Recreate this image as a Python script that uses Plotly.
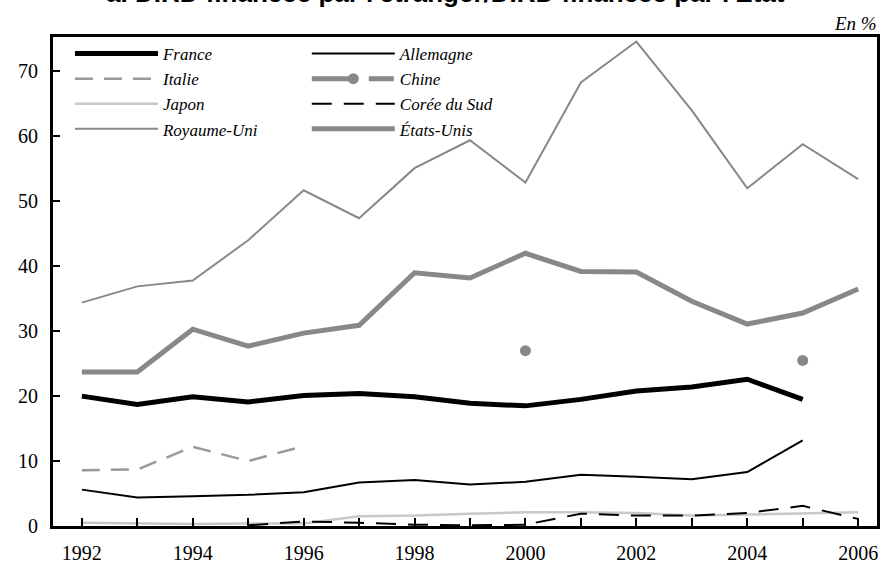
import plotly.graph_objects as go

years = list(range(1992, 2007))

france = [20.0, 18.7, 19.9, 19.1, 20.1, 20.4, 19.9, 18.9, 18.5, 19.5, 20.8, 21.4, 22.6, 19.5, None]
allemagne = [5.6, 4.4, 4.6, 4.8, 5.2, 6.7, 7.1, 6.4, 6.8, 7.9, 7.6, 7.2, 8.3, 13.2, None]
italie = [8.6, 8.7, 12.2, 10.0, 12.3, None, None, None, None, None, None, None, None, None, None]
chine = [None, None, None, None, None, None, None, None, 27.0, None, None, None, None, 25.5, None]
japon = [0.5, 0.4, 0.3, 0.4, 0.4, 1.5, 1.6, 1.9, 2.1, 2.1, 2.0, 1.6, 1.8, 2.0, 2.1]
coree = [None, None, None, 0.1, 0.7, 0.5, 0.2, 0.1, 0.2, 1.9, 1.6, 1.6, 2.0, 3.1, 1.1]
royaume_uni = [34.4, 36.9, 37.8, 44.0, 51.7, 47.4, 55.1, 59.4, 52.9, 68.3, 74.6, 64.0, 52.0, 58.8, 53.4]
etats_unis = [23.7, 23.7, 30.3, 27.7, 29.7, 30.9, 39.0, 38.2, 42.0, 39.2, 39.1, 34.6, 31.1, 32.8, 36.5]

x_tickvals = years
x_ticktext = [str(y) if y % 2 == 0 else "" for y in years]
y_tickvals = [0, 10, 20, 30, 40, 50, 60, 70]

title_text = "a. DIRD financée par l'étranger/DIRD financée par l'État"
unit_text = "En %"

fig = go.Figure()


def add_line(name, y, color, width, legend, dash="solid", mode="lines", marker=None):
    fig.add_trace(go.Scatter(
        x=years, y=y, name=name, mode=mode, legend=legend,
        line=dict(color=color, width=width, dash=dash),
        marker=marker, connectgaps=False, hoverinfo="skip",
    ))


add_line("Japon", japon, "#c8c8c8", 2.5, "legend")
add_line("Corée du Sud", coree, "#000000", 2, "legend2", dash="20px,12px")
add_line("Royaume-Uni", royaume_uni, "#888888", 2, "legend")
add_line("Italie", italie, "#999999", 2.5, "legend", dash="18px,11px")
add_line("Allemagne", allemagne, "#000000", 2, "legend2")
add_line("États-Unis", etats_unis, "#888888", 5, "legend2")
add_line("France", france, "#000000", 5, "legend")
add_line("Chine", chine, "#888888", 5, "legend2", dash="40px,17px,25px,17px",
         mode="lines+markers", marker=dict(size=11, color="#888888"))

legend_font = dict(family="Liberation Serif", size=17, color="#000000", style="italic")
leg_common = dict(
    orientation="v", yanchor="top", xanchor="left", y=1.002,
    itemwidth=83, tracegroupgap=0, font=legend_font,
    bgcolor="rgba(0,0,0,0)", itemclick=False, itemdoubleclick=False,
    traceorder="normal",
)

fig.update_layout(
    width=883, height=570,
    margin=dict(l=53, r=6, t=37, b=44, autoexpand=False),
    paper_bgcolor="white", plot_bgcolor="white",
    showlegend=True,
    legend=dict(x=0.0206, **leg_common),
    legend2=dict(x=0.308, **leg_common),
    xaxis=dict(
        range=[1991.48, 2006.34], tickvals=x_tickvals, ticktext=x_ticktext,
        ticks="inside", ticklen=8, tickwidth=2, tickcolor="#000",
        showline=True, linewidth=3, linecolor="#000", mirror=True,
        showgrid=False, zeroline=False, automargin=False,
        tickfont=dict(family="Liberation Serif", size=20, color="#000"),
        ticklabelstandoff=7,
    ),
    yaxis=dict(
        range=[0, 75.3], tickvals=y_tickvals,
        ticks="inside", ticklen=7, tickwidth=2, tickcolor="#000",
        showline=True, linewidth=3, linecolor="#000", mirror=True,
        showgrid=False, zeroline=False, automargin=False,
        tickfont=dict(family="Liberation Serif", size=20, color="#000"),
        ticklabelstandoff=8,
    ),
    annotations=[
        dict(text="<b>" + title_text + "</b>", xref="paper", yref="paper",
             x=0.476, y=1.055, xanchor="center", yanchor="bottom", showarrow=False,
             font=dict(family="Liberation Sans", size=26, color="#000")),
        dict(text=unit_text, xref="paper", yref="paper",
             x=1.002, y=1.003, xanchor="right", yanchor="bottom", showarrow=False,
             font=dict(family="Liberation Serif", size=19, color="#000", style="italic")),
    ],
)

order1 = ["France", "Italie", "Japon", "Royaume-Uni"]
order2 = ["Allemagne", "Chine", "Corée du Sud", "États-Unis"]
for tr in fig.data:
    if tr.name in order1:
        tr.legendrank = order1.index(tr.name) + 1
    else:
        tr.legendrank = order2.index(tr.name) + 1

fig.write_html("out.html", config={"displayModeBar": False},
               post_script="document.body.style.margin='0px';")
